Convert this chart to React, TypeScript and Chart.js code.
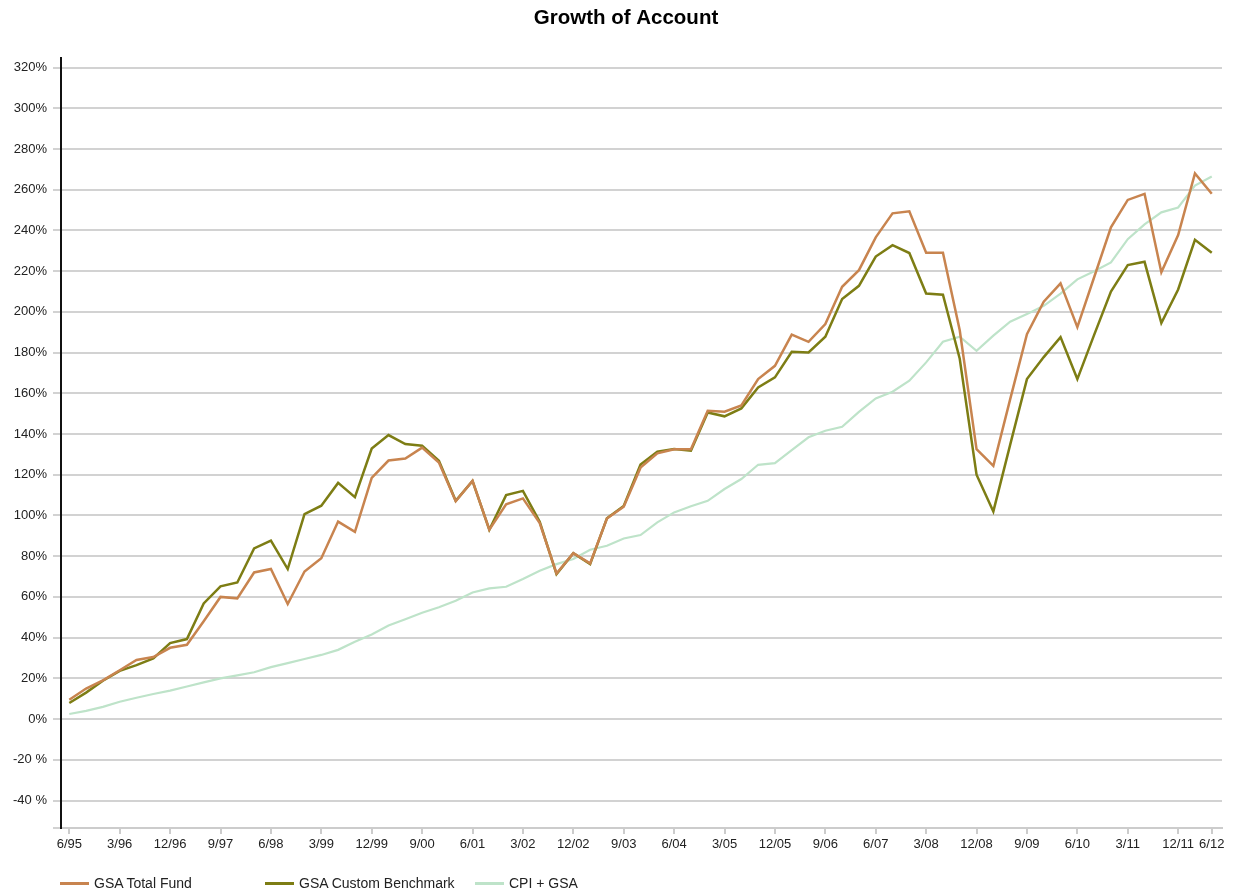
import React, { useEffect, useRef } from "react";
import { Chart, registerables } from "chart.js";

Chart.register(...registerables);

const quarters = [
  "6/95", "9/95", "12/95", "3/96", "6/96", "9/96", "12/96", "3/97", "6/97", "9/97", "12/97",
  "3/98", "6/98", "9/98", "12/98", "3/99", "6/99", "9/99", "12/99", "3/00", "6/00", "9/00", "12/00",
  "3/01", "6/01", "9/01", "12/01", "3/02", "6/02", "9/02", "12/02", "3/03", "6/03", "9/03", "12/03",
  "3/04", "6/04", "9/04", "12/04", "3/05", "6/05", "9/05", "12/05", "3/06", "6/06", "9/06", "12/06",
  "3/07", "6/07", "9/07", "12/07", "3/08", "6/08", "9/08", "12/08", "3/09", "6/09", "9/09", "12/09",
  "3/10", "6/10", "9/10", "12/10", "3/11", "6/11", "9/11", "12/11", "3/12", "6/12",
];

const xTickLabels = [
  "6/95", "3/96", "12/96", "9/97", "6/98", "3/99", "12/99", "9/00", "6/01", "3/02", "12/02", "9/03",
  "6/04", "3/05", "12/05", "9/06", "6/07", "3/08", "12/08", "9/09", "6/10", "3/11", "12/11", "6/12",
];

const yTickValues = [-40, -20, 0, 20, 40, 60, 80, 100, 120, 140, 160, 180, 200, 220, 240, 260, 280, 300, 320];

const totalFund = [
  9.5, 15, 19, 24, 29, 30.5, 35, 36.5, 48, 60, 59.3,
  72, 73.7, 56.5, 72.5, 79, 97, 92, 118.5, 127, 128, 133.3, 126,
  107, 117, 93, 105.5, 108.4, 96.3, 71.5, 81.5, 76.5, 98.5, 104.3, 123.5,
  130.5, 132.5, 132.5, 151.4, 151, 154, 167, 173.5, 188.8, 185.3, 194, 212.3,
  220.5, 236.6, 248.4, 249.4, 229, 229, 191, 132.6, 124.4, 157, 189, 205,
  214, 192.5, 217, 241.5, 255, 258, 219.5, 237.7, 268, 258,
];

const customBenchmark = [
  7.9, 13, 18.8, 23.7, 26.5, 29.8, 37.3, 39.3, 56.8, 65.2, 67.1,
  83.8, 87.6, 73.7, 100.7, 104.8, 116, 109, 132.9, 139.5, 135.1, 134.3, 126.9,
  107.2, 117, 93, 110, 112.1, 96.9, 71.2, 81.5, 76.1, 98.6, 104.7, 125,
  131.3, 132.6, 131.8, 150.6, 148.7, 152.6, 162.9, 167.8, 180.4, 180.1, 187.8, 206.3,
  212.8, 227.2, 232.8, 228.9, 209, 208.4, 177, 120, 102, 134.7, 167, 177.8,
  187.6, 167, 188.7, 210, 223, 224.6, 194.5, 211, 235.4, 229,
];

const cpiGsa = [
  2.5, 4, 6, 8.5, 10.5, 12.3, 14, 16, 18, 20, 21.5,
  23, 25.5, 27.5, 29.5, 31.5, 34, 38, 41.5, 46, 49, 52.2, 54.9,
  58.1, 62.2, 64.2, 65, 68.8, 72.9, 76.1, 78.6, 83.2, 85.1, 88.7, 90.4,
  96.6, 101.5, 104.5, 107.2, 113, 117.9, 124.9, 125.7, 132.1, 138.4, 141.6, 143.6,
  150.9, 157.5, 160.8, 166.2, 175.2, 185.3, 187.8, 180.9, 188.3, 195.2, 198.9, 203,
  209, 216, 220, 224.3, 235.7, 243, 248.9, 251.3, 262, 266.5,
];

const seriesNames = ["GSA Total Fund", "GSA Custom Benchmark", "CPI + GSA"];
const seriesColors = ["#C8844F", "#7D7D14", "#BEE3C9"];
const seriesWidths = [2.5, 2.5, 2.2];
const seriesValues = [totalFund, customBenchmark, cpiGsa];

const FONT = "'Liberation Sans', Arial, sans-serif";
const Y_MIN = -53.5;
const Y_MAX = 324.7;

const titlePlugin = {
  id: "customTitle",
  afterDraw(chart: any) {
    const ctx = chart.ctx;
    ctx.save();
    ctx.font = `bold 20.5px ${FONT}`;
    ctx.fillStyle = "#000";
    ctx.textAlign = "center";
    ctx.textBaseline = "middle";
    ctx.fillText("Growth of Account", 626, 18.5);
    ctx.restore();
  },
};

export default function App() {
  const canvasRef = useRef<HTMLCanvasElement | null>(null);

  useEffect(() => {
    if (!canvasRef.current) return;
    const chart = new Chart(canvasRef.current, {
      type: "line",
      data: {
        datasets: seriesNames.map((name, k) => ({
          label: name,
          data: seriesValues[k].map((v, i) => ({ x: i, y: v })),
          borderColor: seriesColors[k],
          backgroundColor: seriesColors[k],
          borderWidth: seriesWidths[k],
          pointRadius: 0,
          tension: 0,
          fill: false,
        })),
      },
      options: {
        animation: false,
        responsive: true,
        maintainAspectRatio: false,
        layout: { padding: { top: 58, right: 13, bottom: 0, left: 0 } },
        plugins: {
          legend: { display: false },
          title: { display: false },
          tooltip: { enabled: false },
        },
        scales: {
          x: {
            type: "linear",
            min: -0.494,
            max: 68.61,
            afterFit: (scale: any) => {
              scale.height = 64;
            },
            afterBuildTicks: (scale: any) => {
              scale.ticks = xTickLabels.map((l) => ({ value: quarters.indexOf(l) }));
            },
            border: { display: true, color: "#cccccc", width: 2 },
            grid: {
              display: true,
              drawOnChartArea: false,
              drawTicks: true,
              tickLength: 6,
              color: "#cccccc",
              lineWidth: 2,
            },
            ticks: {
              autoSkip: false,
              maxRotation: 0,
              minRotation: 0,
              padding: 3,
              color: "#222",
              font: { family: FONT, size: 13 },
              callback: (v: any) => quarters[Math.round(Number(v))] ?? "",
            },
          },
          y: {
            type: "linear",
            min: Y_MIN,
            max: Y_MAX,
            afterFit: (scale: any) => {
              scale.width = 61;
            },
            afterBuildTicks: (scale: any) => {
              scale.ticks = [{ value: Y_MIN }, ...yTickValues.map((v) => ({ value: v }))];
            },
            border: { display: true, color: "#111", width: 2 },
            grid: {
              color: "#d2d2d2",
              lineWidth: 2,
              tickLength: 8,
              drawTicks: true,
            },
            ticks: {
              padding: 6,
              color: "#222",
              font: { family: FONT, size: 13 },
              callback: (v: any) => {
                const n = Number(v);
                if (n === Y_MIN) return "";
                return n < 0 ? `${n} %` : `${n}%`;
              },
            },
          },
        },
      },
      plugins: [titlePlugin],
    });
    return () => chart.destroy();
  }, []);

  const legendLefts = [60, 265, 475];

  return (
    <div
      style={{
        position: "fixed",
        left: 0,
        top: 0,
        width: 1235,
        height: 892,
        background: "#fff",
        fontFamily: FONT,
      }}
    >
      <canvas ref={canvasRef} width={1235} height={892} />
      {seriesNames.map((name, k) => (
        <div
          key={name}
          style={{
            position: "absolute",
            left: legendLefts[k],
            top: 874,
            height: 18,
            display: "flex",
            alignItems: "center",
            fontSize: 14,
            color: "#222",
            whiteSpace: "nowrap",
          }}
        >
          <span
            style={{
              display: "inline-block",
              width: 29,
              height: 3,
              background: seriesColors[k],
              marginRight: 5,
            }}
          />
          <span>{name}</span>
        </div>
      ))}
    </div>
  );
}
